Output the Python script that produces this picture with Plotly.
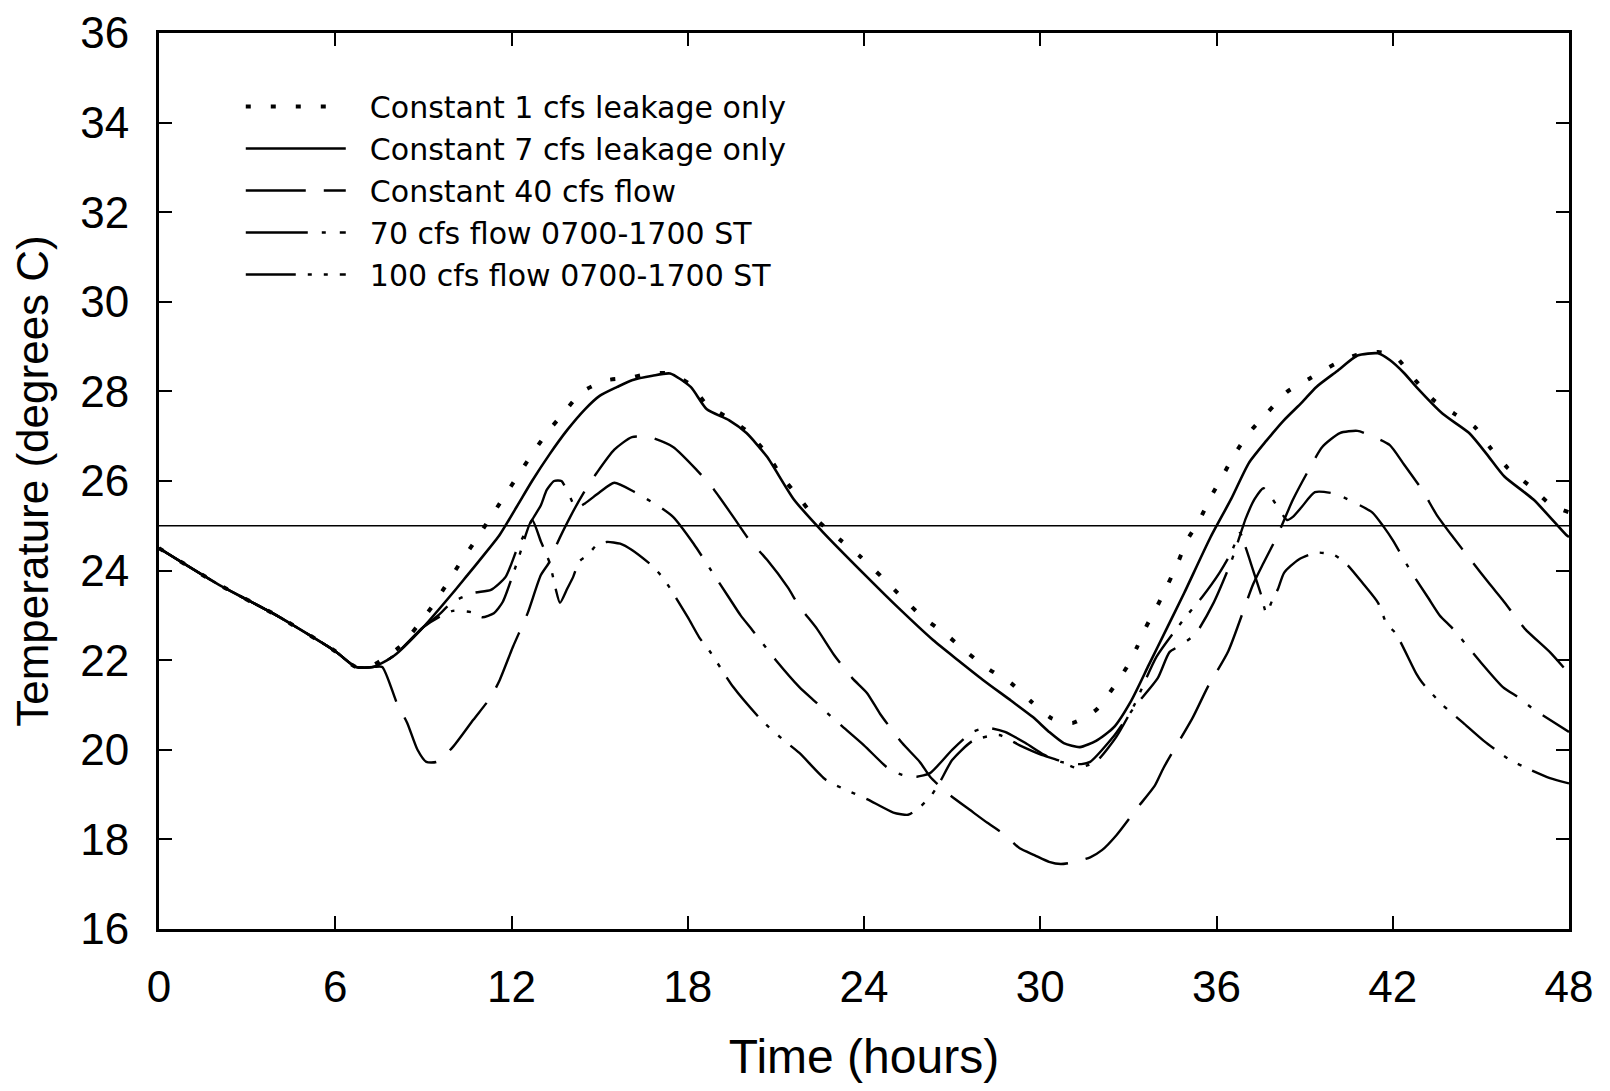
import plotly.graph_objects as go

# ---------------- data (hours, degrees C) ----------------
x_1cfs = [0, 2, 4, 6, 6.7, 7.3, 8.2, 9.3, 10.25, 10.7, 11.2, 11.7, 12.2, 12.6, 13.2, 13.75, 14.4,
          15.25, 16.0, 16.7, 17.4, 18.1, 18.65, 19.4, 20.0, 20.7, 21.2, 21.7, 22.4, 23.2, 23.9,
          24.6, 25.3, 26.0, 26.75, 27.5, 28.2, 29.0, 29.7, 30.4, 31.1, 31.9, 32.5, 32.95, 33.3,
          33.6, 34.0, 34.35, 34.7, 35.0, 35.4, 35.8, 36.2, 36.6, 37.1, 37.75, 38.4, 39.2, 40.0,
          40.7, 41.5, 42.1, 42.7, 43.4, 44.1, 44.8, 45.3, 45.9, 46.7, 47.4, 48]
y_1cfs = [24.5, 23.7, 23.0, 22.2, 21.85, 21.9, 22.3, 23.2, 24.17, 24.6, 25.1, 25.6, 26.1, 26.5,
          27.07, 27.5, 27.99, 28.25, 28.3, 28.4, 28.4, 28.15, 27.7, 27.4, 27.12, 26.6, 26.1, 25.7,
          25.13, 24.68, 24.3, 23.86, 23.4, 22.96, 22.6, 22.18, 21.82, 21.49, 21.07, 20.7, 20.6,
          20.89, 21.4, 21.85, 22.3, 22.74, 23.23, 23.7, 24.2, 24.68, 25.1, 25.64, 26.1, 26.58,
          27.07, 27.54, 27.99, 28.3, 28.6, 28.8, 28.88, 28.77, 28.3, 27.8, 27.5, 27.2, 26.76,
          26.3, 25.87, 25.46, 25.3]

x_7cfs = [0, 2, 4, 6, 6.7, 7.3, 8, 9, 10, 10.5, 11, 11.6, 12.2, 12.7, 13.3, 13.9, 14.5, 15, 15.6,
          16.1, 16.8, 17.4, 18.1, 18.65, 19.4, 20, 20.7, 21.6, 22.6, 24.1, 25.2, 26.35, 27.2,
          28.05, 29, 29.75, 30.3, 30.8, 31.35, 31.9, 32.5, 33.1, 33.7, 34.3, 34.9, 35.8, 36.5,
          37.1, 37.7, 38.3, 38.9, 39.4, 40.1, 40.8, 41.5, 41.9, 42.4, 42.8, 43.7, 44.6, 45.2,
          45.8, 46.8, 47.9, 48]
y_7cfs = [24.5, 23.7, 23.0, 22.2, 21.85, 21.85, 22.1, 22.74, 23.5, 23.9, 24.3, 24.8, 25.45, 26.0,
          26.6, 27.14, 27.6, 27.9, 28.1, 28.25, 28.35, 28.4, 28.1, 27.6, 27.36, 27.07, 26.54,
          25.6, 24.86, 23.86, 23.15, 22.45, 22.0, 21.56, 21.1, 20.73, 20.4, 20.15, 20.06, 20.2,
          20.5, 21.1, 21.9, 22.7, 23.5, 24.75, 25.6, 26.4, 26.9, 27.36, 27.75, 28.1, 28.45, 28.8,
          28.85, 28.7, 28.4, 28.1, 27.5, 27.07, 26.6, 26.1, 25.58, 24.8, 24.75]

x_40cfs = [0, 2, 4, 6, 6.7, 7.3, 7.6, 8.1, 8.45, 8.8, 9.1, 9.45, 10.0, 10.7, 11.3, 11.6, 12.05,
           12.55, 13.0, 13.3, 13.55, 14.0, 14.45, 14.9, 15.5, 16.1, 16.7, 17.5, 18.3, 18.9, 19.55,
           20.1, 20.7, 21.4, 21.8, 22.4, 23.0, 23.6, 24.1, 24.55, 25.3, 25.9, 26.25, 26.9, 27.6,
           28.2, 28.8, 29.3, 29.8, 30.3, 30.7, 31.2, 31.7, 32.1, 32.6, 33.3, 33.9, 34.2, 35.2,
           35.7, 36.4, 37.25, 37.6, 38.05, 38.6, 39.1, 39.6, 40.2, 40.8, 41.3, 41.9, 42.35, 43.0,
           43.5, 44.05, 44.7, 45.3, 45.75, 46.5, 47.35, 48]
y_40cfs = [24.5, 23.7, 23.0, 22.2, 21.85, 21.85, 21.85, 21.04, 20.6, 20.0, 19.73, 19.73, 20.06,
           20.67, 21.18, 21.56, 22.3, 23.05, 23.9, 24.2, 24.6, 25.2, 25.73, 26.18, 26.7, 26.98,
           26.98, 26.76, 26.25, 25.8, 25.2, 24.68, 24.24, 23.63, 23.2, 22.7, 22.1, 21.6, 21.27,
           20.8, 20.15, 19.73, 19.4, 19.0, 18.66, 18.37, 18.1, 17.8, 17.65, 17.5, 17.45, 17.5,
           17.6, 17.76, 18.1, 18.7, 19.2, 19.6, 20.73, 21.4, 22.2, 23.7, 24.17, 24.75, 25.58,
           26.2, 26.76, 27.07, 27.12, 27.0, 26.8, 26.4, 25.8, 25.24, 24.75, 24.2, 23.7, 23.34,
           22.7, 22.18, 21.7]

x_70cfs = [0, 2, 4, 6, 6.7, 7.3, 8, 9, 9.5, 10.0, 10.7, 11.3, 11.8, 12.2, 12.7, 13.0, 13.2, 13.45,
           13.7, 13.95, 14.2, 14.5, 15.0, 15.5, 16.2, 17.05, 17.5, 18.2, 18.8, 19.4, 19.8, 20.2,
           21.0, 21.8, 22.4, 22.95, 24.0, 24.8, 25.3, 25.8, 26.25, 27.0, 27.7, 28.2, 28.8, 29.5,
           30.1, 30.7, 31.4, 31.7, 32.5, 33.2, 34.0, 34.4, 34.8, 35.3, 35.9, 36.5, 37.0, 37.3,
           37.6, 37.8, 38.1, 38.4, 38.6, 38.9, 39.35, 40.0, 40.6, 41.3, 41.7, 42.0, 42.6, 43.2,
           43.6, 44.05, 45.0, 45.75, 46.3, 46.8, 47.4, 48]
y_70cfs = [24.5, 23.7, 23.0, 22.2, 21.85, 21.85, 22.1, 22.74, 23.0, 23.3, 23.5, 23.57, 23.86,
           24.5, 25.13, 25.46, 25.8, 26.0, 26.0, 25.7, 25.4, 25.5, 25.75, 25.96, 25.75, 25.42,
           25.2, 24.6, 24.0, 23.4, 23.0, 22.67, 22.0, 21.4, 21.04, 20.7, 20.1, 19.6, 19.44, 19.4,
           19.48, 20.0, 20.4, 20.49, 20.4, 20.15, 19.9, 19.73, 19.68, 19.73, 20.3, 20.95, 21.6,
           22.18, 22.34, 22.6, 23.28, 24.2, 25.17, 25.6, 25.84, 25.7, 25.4, 25.13, 25.2, 25.42,
           25.75, 25.72, 25.55, 25.3, 24.97, 24.68, 24.0, 23.4, 23.0, 22.7, 21.95, 21.4, 21.16,
           20.9, 20.65, 20.4]

x_100cfs = [0, 2, 4, 6, 6.7, 7.3, 8, 9, 9.5, 10.0, 10.65, 11.0, 11.4, 11.7, 12.2, 12.7, 13.0,
            13.3, 13.5, 13.65, 13.9, 14.1, 14.3, 14.6, 14.9, 15.25, 15.7, 16.1, 16.8, 17.2, 18.0,
            18.4, 18.75, 19.55, 20.5, 21.2, 21.8, 22.7, 23.4, 24.1, 25.0, 25.5, 25.8, 26.3, 26.6,
            27.0, 27.7, 28.6, 29.3, 30.0, 30.6, 31.2, 31.6, 32.0, 32.6, 33.2, 33.96, 34.87, 35.5,
            36.1, 36.5, 36.8, 37.0, 37.25, 37.5, 37.7, 37.9, 38.1, 38.3, 38.8, 39.4, 40.0, 40.45,
            41.0, 41.5, 41.8, 42.1, 42.8, 43.0, 43.7, 44.4, 45.1, 46.0, 46.7, 47.35, 48]
y_100cfs = [24.5, 23.7, 23.0, 22.2, 21.85, 21.85, 22.1, 22.74, 22.95, 23.1, 23.07, 22.96, 23.05,
            23.3, 24.2, 25.13, 24.65, 24.17, 23.6, 23.28, 23.6, 23.86, 24.2, 24.35, 24.57, 24.64,
            24.6, 24.46, 24.1, 23.8, 22.96, 22.5, 22.2, 21.4, 20.67, 20.25, 19.93, 19.33, 19.1,
            18.9, 18.6, 18.55, 18.66, 18.99, 19.3, 19.77, 20.2, 20.33, 20.1, 19.9, 19.77, 19.6,
            19.65, 19.8, 20.3, 21.0, 22.08, 22.9, 23.4, 23.95, 24.4, 24.84, 24.5, 24.0, 23.5,
            23.05, 23.34, 23.6, 23.95, 24.25, 24.4, 24.35, 24.13, 23.7, 23.28, 22.8, 22.6, 21.7,
            21.5, 21.0, 20.6, 20.2, 19.77, 19.55, 19.37, 19.25]

series_names = ["Constant 1 cfs leakage only", "Constant 7 cfs leakage only",
                "Constant 40 cfs flow", "70 cfs flow 0700-1700 ST", "100 cfs flow 0700-1700 ST"]
reference_temp = 25
x_ticks = [0, 6, 12, 18, 24, 30, 36, 42, 48]
y_ticks = [16, 18, 20, 22, 24, 26, 28, 30, 32, 34, 36]

FONT = "Liberation Sans, Arial, sans-serif"
LEGEND_FONT = "DejaVu Sans, Liberation Sans, sans-serif"
GAP = "\u00a0\u00a0"  # small visual gap between legend sample and label

styles = [
    dict(dash="5px,20px", width=4),
    dict(dash="solid", width=2.6),
    dict(dash="60px,18px", width=2.4),
    dict(dash="62px,14px,4px,14px", width=2.4),
    dict(dash="50px,12px,4px,12px,4px,12px", width=2.4),
]
xs = [x_1cfs, x_7cfs, x_40cfs, x_70cfs, x_100cfs]
ys = [y_1cfs, y_7cfs, y_40cfs, y_70cfs, y_100cfs]

fig = go.Figure()
for name, x, y, st in zip(series_names, xs, ys, styles):
    fig.add_trace(go.Scatter(
        x=x, y=y, mode="lines", name=GAP + name,
        line=dict(color="black", width=st["width"], dash=st["dash"], shape="spline", smoothing=0.6),
    ))

fig.add_hline(y=reference_temp, line=dict(color="black", width=1.6), layer="below")

axis_common = dict(
    showline=True, linecolor="black", linewidth=3, mirror="ticks",
    ticks="inside", ticklen=13, tickwidth=2, tickcolor="black",
    showgrid=False, zeroline=False,
    tickfont=dict(family=FONT, size=44, color="black"),
)

fig.update_xaxes(range=[0, 48], tickvals=x_ticks, ticktext=[str(v) for v in x_ticks],
                 title=dict(text="Time (hours)", font=dict(family=FONT, size=48, color="black"),
                            standoff=30),
                 ticklabelstandoff=17, **axis_common)
fig.update_yaxes(range=[16, 36], tickvals=y_ticks, ticktext=[str(v) for v in y_ticks],
                 title=dict(text="Temperature (degrees C)",
                            font=dict(family=FONT, size=44, color="black"), standoff=18),
                 ticklabelstandoff=18, **axis_common)

fig.update_layout(
    width=1610, height=1091,
    margin=dict(l=159, r=41, t=33, b=162, autoexpand=False),
    paper_bgcolor="white", plot_bgcolor="white",
    showlegend=True,
    legend=dict(
        x=0.058, y=0.947, xanchor="left", yanchor="top",
        bgcolor="rgba(0,0,0,0)", borderwidth=0,
        font=dict(family=LEGEND_FONT, size=30, color="black"),
        itemwidth=100, tracegroupgap=0,
    ),
)

fig.write_html("out.html")
